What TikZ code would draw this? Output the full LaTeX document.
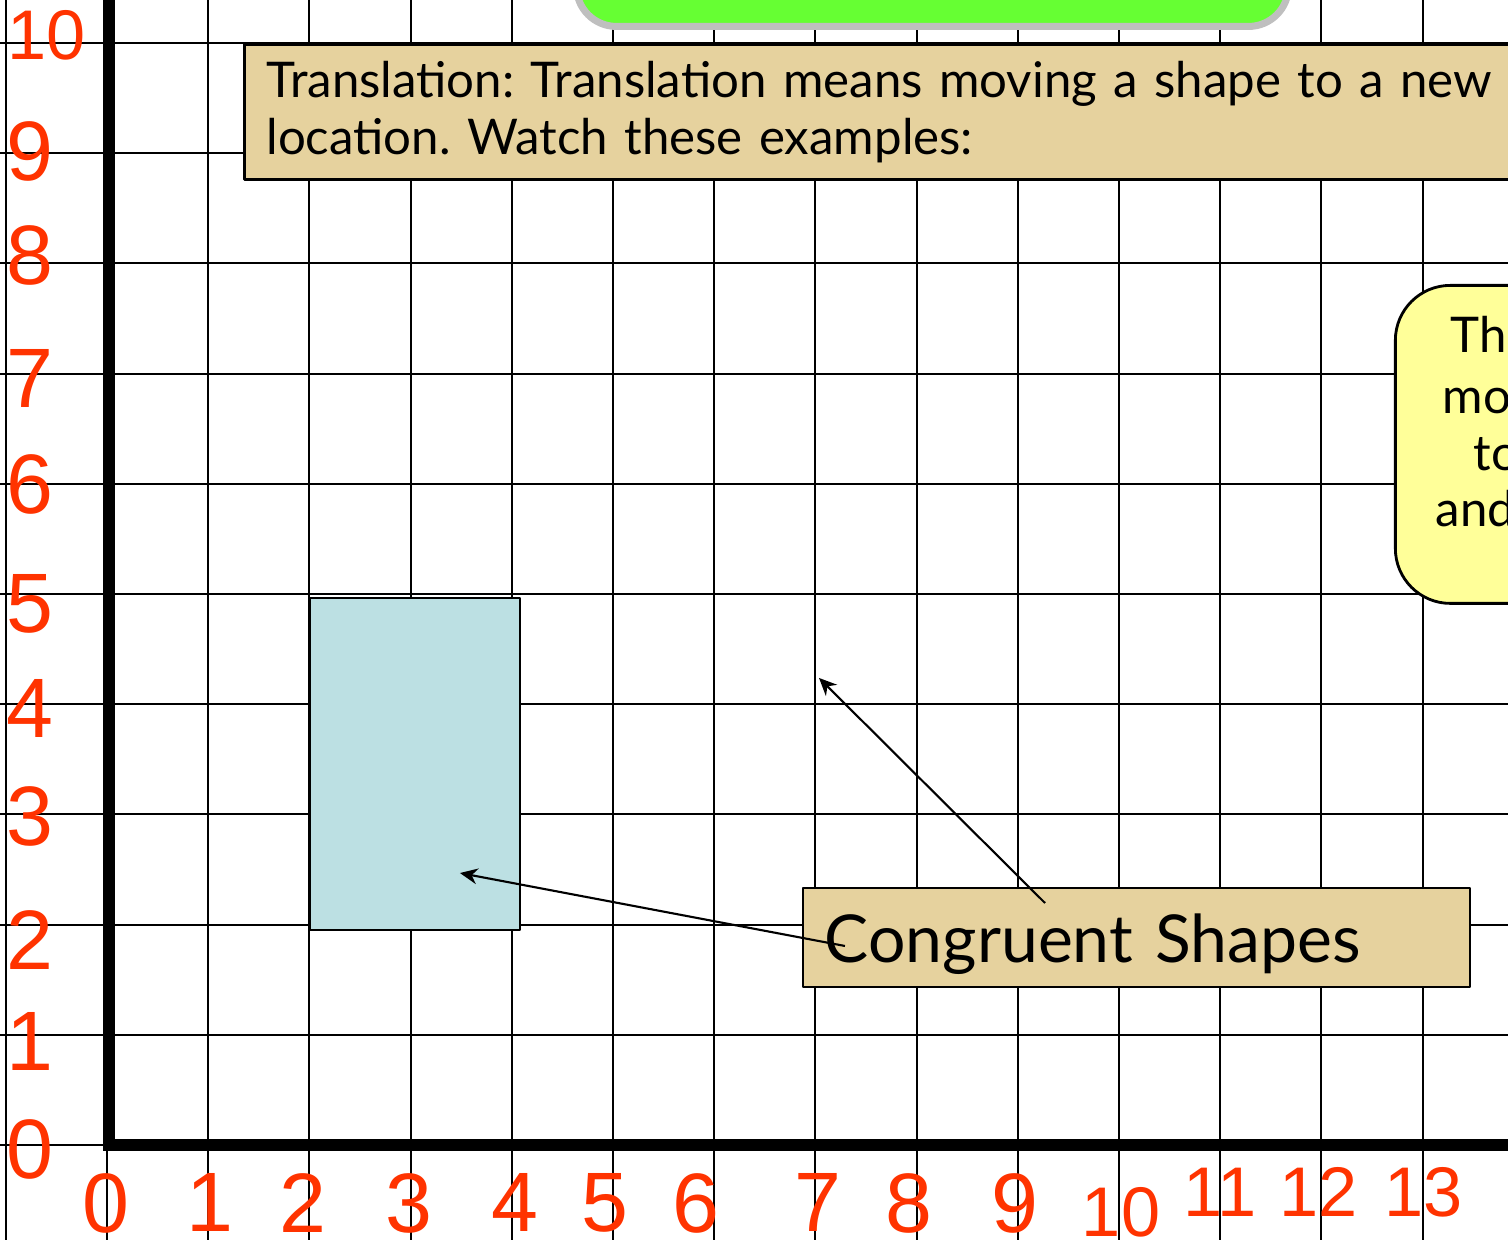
\documentclass[tikz,border=0pt]{standalone}
\usepackage{fontspec}
\setmainfont{Lato}
\newfontfamily\axisfont{Liberation Sans}
\usepackage{tikz}
\usetikzlibrary{arrows.meta,calc}
\usetikzlibrary{positioning}
\frenchspacing

\definecolor{axisred}{HTML}{FF3300}
\definecolor{parchment}{HTML}{E6D29E}
\definecolor{shapeblue}{HTML}{BCE0E3}
\definecolor{bannergreen}{HTML}{66FF33}
\definecolor{noteyellow}{HTML}{FFFF99}
\definecolor{rimgray}{HTML}{BFBFBF}

\begin{document}
\begin{tikzpicture}[x=1.012cm,y=1.102cm,>=Stealth,line join=round,
  numlab/.style={text=axisred,font=\axisfont\fontsize{24}{24}\selectfont,inner sep=0pt},
  numsmall/.style={numlab,font=\axisfont\fontsize{20}{20}\selectfont},
  parch/.style={draw,line width=0.8pt,fill=parchment},
  ptr/.style={->,line width=0.6pt,>={Stealth[length=5pt,width=4.5pt]}},
  notetext/.style={font=\fontsize{14}{16.3}\selectfont,inner sep=0pt,anchor=base west}]
\useasboundingbox (-1.057,-0.853) rectangle (13.844,10.390);
\clip (-1.057,-0.853) rectangle (13.844,10.390);
% grid
\draw[line width=0.6pt,xstep=1.012cm,ystep=1.102cm] (-1.5,-1) grid (14.5,10.5);
% axes
\draw[line width=3.3pt,line join=miter] (0.02,10.5) -- (0.02,0) -- (14.5,0);
% banner, cut off at top
\draw[line width=2pt,draw=rimgray,fill=bannergreen,rounded corners=0.4cm] (4.639,11) rectangle (11.675,10.15);
% heading box
\node[parch,anchor=north west,inner xsep=0.22cm,inner ysep=0pt,minimum height=1.35cm,text width=15cm,align=left,font=\fontsize{14}{16.3}\selectfont] (transl) at (1.344,10.0) {Translation: Translation means moving a shape to a new\\location. Watch these examples:};
% shape
\draw[line width=0.8pt,fill=shapeblue] (2.006,1.951) rectangle (4.081,4.964);
% note on the right
\node[draw,line width=0.8pt,fill=noteyellow,rounded corners=0.55cm,anchor=north west,inner sep=0pt,minimum width=4cm,minimum height=3.18cm] (note) at (12.717,7.813) {};
\node[notetext] (noteA) at (13.27,7.187) {Th};
\node[notetext] (noteB) at (13.19,6.642) {mov};
\node[notetext] (noteC) at (13.498,6.125) {to};
\node[notetext] (noteD) at (13.123,5.608) {and};
% label box + pointers
\node[parch,minimum width=6.67cm,inner xsep=0.22cm,inner ysep=0pt,text height=0.75cm,text depth=0.24cm,text width=6.23cm,align=left,font=\fontsize{18.8}{22}\selectfont] (cong) at (10.173,1.883) {Congruent Shapes};
\coordinate (tipA) at (3.488,2.468);
\coordinate (tipB) at (7.036,4.238);
\coordinate (srcA) at (7.292,1.806);
\coordinate (srcB) at (9.269,2.196);
\draw[ptr] (srcA) -- (tipA);
\draw[ptr] (srcB) -- (tipB);
% y labels
\node[numsmall] (y10) at (-0.593,10.07) {10};
\node[numlab] (y9) at (-0.761,9.02) {9};
\node[numlab] (y8) at (-0.761,8.07) {8};
\node[numlab] (y7) at (-0.761,6.96) {7};
\node[numlab] (y6) at (-0.761,5.99) {6};
\node[numlab] (y5) at (-0.761,4.91) {5};
\node[numlab] (y4) at (-0.761,3.96) {4};
\node[numlab] (y3) at (-0.761,2.98) {3};
\node[numlab] (y2) at (-0.761,1.86) {2};
\node[numlab] (y1) at (-0.761,0.94) {1};
\node[numlab] (y0) at (-0.761,-0.04) {0};
% x labels
\node[numlab] (x0) at (-0.01,-0.526) {0};
\node[numlab] (x1) at (1.02,-0.526) {1};
\node[numlab] (x2) at (1.94,-0.526) {2};
\node[numlab] (x3) at (2.98,-0.526) {3};
\node[numlab] (x4) at (4.03,-0.526) {4};
\node[numlab] (x5) at (4.92,-0.526) {5};
\node[numlab] (x6) at (5.82,-0.526) {6};
\node[numlab] (x7) at (7.03,-0.526) {7};
\node[numlab] (x8) at (7.92,-0.526) {8};
\node[numlab] (x9) at (8.97,-0.526) {9};
\node[numsmall] (x10) at (10.02,-0.608) {10};
\node[numsmall] (x11) at (11.0,-0.426) {11};
\node[numsmall] (x12) at (11.97,-0.426) {12};
\node[numsmall] (x13) at (13.01,-0.426) {13};
\end{tikzpicture}
\end{document}
